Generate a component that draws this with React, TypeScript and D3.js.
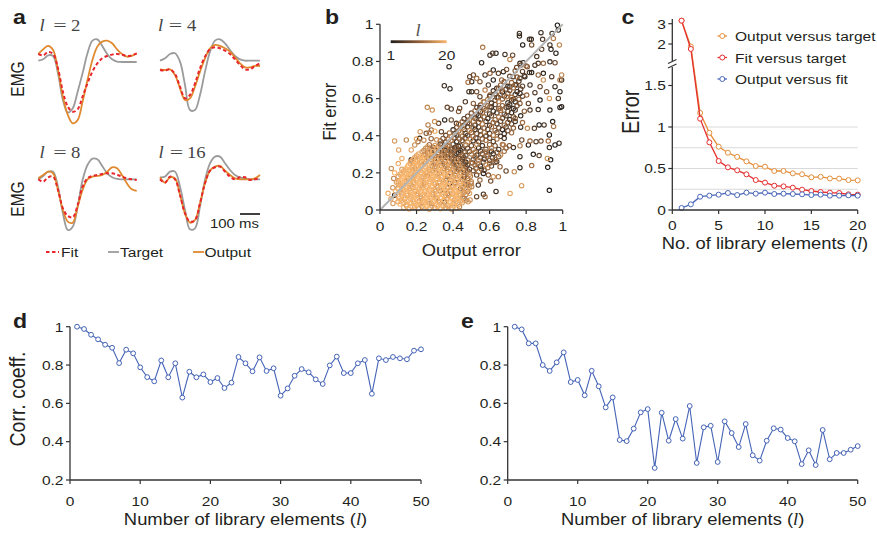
import React from "react";
import * as d3 from "d3";

// ---------- Panel a: EMG waveforms (time in ms, amplitude in arbitrary units) ----------
const emgTime = [0, 25, 50, 75, 100, 125, 150, 175, 200, 225, 250, 275, 300, 325, 350, 375, 400, 425, 450, 475, 500];
const l2Target = [-2, 2, 14, 12, -40, -120, -158, -145, -95, -40, 20, 58, 62, 42, 18, 2, -5, -6, -6, -6, -6];
const l2Output = [18, 32, 42, 30, -30, -110, -165, -190, -180, -125, -60, 0, 40, 55, 58, 50, 32, 18, 10, 12, 20];
const l2Fit = [18, 14, 24, 18, -25, -95, -140, -155, -148, -110, -70, -35, -10, 5, 12, 16, 18, 16, 12, 14, 20];
const l4Target = [-2, 5, 18, 20, -5, -75, -150, -150, -105, -35, 25, 58, 62, 50, 30, 12, 2, -2, -2, -2, -2];
const l4Output = [-28, -30, -28, -45, -85, -120, -115, -80, -35, 5, 35, 45, 42, 35, 25, 8, -10, -22, -22, -18, -18];
const l4Fit = [-30, -32, -28, -42, -80, -115, -105, -70, -25, 10, 32, 38, 35, 28, 18, 2, -15, -28, -28, -18, -10];
const l8Target = [-1, 9, 22, 22, -23, -103, -153, -143, -83, -3, 42, 61, 59, 39, 17, 5, 0, -1, -1, -1, -1];
const l8Output = [2, 12, 22, 17, -33, -93, -128, -131, -83, -33, -1, 7, 9, 12, 22, 35, 32, 12, -13, -31, -36];
const l8Fit = [-1, -8, 5, 7, -33, -88, -111, -115, -78, -23, 2, 9, 12, 15, 17, 17, 13, 7, 2, -1, -3];
const l16Target = [5, 7, 22, 22, -23, -93, -151, -148, -83, -3, 47, 67, 67, 47, 27, 12, 5, 2, -1, -1, -1];
const l16Output = [5, -11, 5, 2, -48, -103, -131, -123, -73, -13, 25, 37, 39, 25, 12, 2, -1, -1, -1, 2, 12];
const l16Fit = [-1, -11, 7, -1, -48, -103, -128, -123, -73, -13, 25, 35, 37, 22, 7, -1, 5, 5, -3, -1, 2];
const emgTitles = ["2", "4", "8", "16"];
const emgLegend = ["Fit", "Target", "Output"];

// ---------- Panel b: scatter [output error, fit error, l] ----------
const scatterSparse = [
  [0.378,0.772,2],[0.352,0.669,3],[0.383,0.653,2],[0.491,0.718,6],[0.482,0.688,12],[0.487,0.637,4],[0.467,0.583,5],[0.259,0.553,15],[0.286,0.538,16],[0.368,0.553,7],[0.39,0.544,5],[0.436,0.548,6],[0.43,0.53,9],
  [0.971,0.995,1],[0.976,0.969,2],[0.942,0.951,3],[0.949,0.924,14],[0.982,0.889,15],[0.93,0.889,4],[0.936,0.865,2],[0.963,0.844,1],[0.881,0.955,3],[0.89,0.919,5],[0.818,0.919,4],[0.828,0.919,2],[0.781,0.889,1],[0.763,0.951,3],[0.763,0.937,2],[0.885,0.865,6],[0.858,0.826,4],[0.83,0.889,8],[0.562,0.876,13],[0.602,0.834,3],[0.635,0.844,2],[0.617,0.844,5],[0.556,0.793,2],[0.711,0.811,14],[0.726,0.834,7],[0.684,0.838,4],[0.766,0.79,3],[0.748,0.768,6],[0.784,0.793,2],[0.806,0.772,9],[0.848,0.78,4],[0.866,0.79,5],[0.894,0.79,11],[0.93,0.798,3],[0.958,0.793,7],[0.818,0.74,4],[0.83,0.74,2],[0.693,0.757,8],[0.675,0.745,3],[0.648,0.736,6],[0.62,0.754,2],[0.602,0.736,10],[0.575,0.727,4],[0.529,0.709,12],[0.511,0.727,7],[0.502,0.691,3],[0.547,0.691,9],[0.593,0.673,5],[0.62,0.7,2],[0.666,0.7,11],[0.729,0.718,4],[0.766,0.709,6],[0.793,0.718,3],[0.866,0.727,10],[0.894,0.736,2],[0.94,0.718,5],[0.985,0.7,13],[0.894,0.7,16],[0.958,0.664,3],[0.876,0.664,7],[0.821,0.673,4],[0.748,0.673,9],[0.711,0.664,2],[0.666,0.646,12],[0.639,0.655,5],[0.575,0.646,14],[0.529,0.637,8],[0.502,0.637,3],[0.547,0.61,6],[0.602,0.619,10],[0.648,0.606,4],[0.693,0.61,13],[0.73,0.596,7],[0.766,0.628,2],[0.803,0.619,11],[0.848,0.632,5],[0.912,0.637,8],[0.927,0.601,17],[0.976,0.601,4],[0.985,0.637,2],[0.876,0.592,1],[0.812,0.574,6],[0.766,0.574,9],[0.702,0.556,3],[0.657,0.547,12],[0.602,0.556,7],[0.547,0.552,4],[0.511,0.574,10],[0.566,0.583,15],[0.821,0.538,5],[0.866,0.541,3],[0.93,0.538,2],[0.985,0.552,1],
  [0.08,0.372,17],[0.102,0.323,18],[0.062,0.224,16],[0.12,0.278,19],[0.144,0.377,15],[0.171,0.323,18],[0.171,0.26,14],[0.19,0.35,16],[0.208,0.368,12],[0.217,0.386,3],[0.253,0.413,9],[0.263,0.458,14],[0.281,0.431,11],[0.321,0.467,6],[0.336,0.422,7],[0.299,0.476,16],[0.354,0.485,2],[0.39,0.485,8],[0.418,0.467,5],[0.171,0.27,3],[0.08,0.08,2],[0.098,0.044,18],[0.071,0.035,17],[0.044,0.09,19],[0.098,0.117,16],[0.126,0.135,15],[0.153,0.171,13],[0.454,0.09,18],[0.482,0.044,17],[0.445,0.048,19],[0.472,0.135,3],[0.418,0.081,16],
  [0.945,0.476,2],[0.898,0.458,4],[0.871,0.458,1],[0.845,0.44,6],[0.807,0.44,15],[0.927,0.404,2],[0.921,0.371,12],[0.958,0.35,1],[0.927,0.336,3],[0.881,0.371,8],[0.854,0.368,5],[0.821,0.371,11],[0.812,0.35,2],[0.776,0.377,7],[0.766,0.346,13],[0.73,0.336,4],[0.708,0.346,9],[0.675,0.35,14],[0.839,0.3,2],[0.871,0.293,6],[0.916,0.278,16],[0.918,0.23,1],[0.83,0.239,12],[0.766,0.287,3],[0.766,0.228,2],[0.735,0.206,15],[0.69,0.21,7],[0.657,0.233,10],[0.639,0.26,5],[0.62,0.179,16],[0.648,0.179,13],[0.593,0.188,9],[0.566,0.197,2],[0.529,0.188,6],[0.547,0.161,11],[0.606,0.156,8],[0.775,0.131,17],[0.927,0.106,1],[0.712,0.089,18],[0.635,0.1,3],[0.566,0.085,4],[0.529,0.072,7],[0.575,0.072,12],[0.493,0.054,16],[0.538,0.134,5],[0.502,0.125,14],
  [0.994,0.556,2],[0.994,0.7,4],[0.994,0.727,15],[0.98,0.36,3],[0.934,0.27,1],[0.95,0.45,13],
];
const scatterCore = [
  [0.13,0.012,19],[0.16,0.005,20],[0.19,0.015,18],[0.21,0.008,17],[0.24,0.012,20],[0.27,0.004,19],[0.30,0.014,16],[0.33,0.007,20],[0.36,0.013,18],[0.39,0.006,17],[0.42,0.011,19],
  [0.11,0.032,20],[0.145,0.028,17],[0.17,0.036,19],[0.2,0.03,20],[0.225,0.034,18],[0.255,0.027,20],[0.28,0.035,15],[0.31,0.029,19],[0.34,0.033,20],[0.37,0.026,18],[0.40,0.034,16],[0.43,0.03,19],
  [0.12,0.052,18],[0.15,0.047,20],[0.18,0.055,19],[0.215,0.049,17],[0.24,0.053,20],[0.265,0.046,18],[0.295,0.054,20],[0.32,0.048,12],[0.35,0.052,19],[0.38,0.046,20],[0.41,0.055,17],[0.44,0.049,18],[0.47,0.053,14],
  [0.10,0.072,19],[0.135,0.068,20],[0.165,0.075,18],[0.19,0.069,20],[0.22,0.073,16],[0.25,0.067,19],[0.275,0.074,20],[0.305,0.07,18],[0.33,0.066,20],[0.36,0.075,17],[0.39,0.069,19],[0.42,0.073,20],[0.45,0.068,15],
  [0.12,0.092,17],[0.15,0.088,20],[0.175,0.095,19],[0.205,0.09,18],[0.23,0.094,20],[0.26,0.087,19],[0.29,0.093,17],[0.315,0.089,20],[0.345,0.095,18],[0.37,0.088,13],[0.40,0.092,19],[0.43,0.087,20],[0.46,0.094,16],[0.49,0.09,18],
  [0.10,0.112,20],[0.13,0.108,18],[0.16,0.115,19],[0.19,0.109,20],[0.215,0.114,17],[0.245,0.107,20],[0.27,0.113,19],[0.30,0.109,18],[0.33,0.115,20],[0.355,0.108,16],[0.385,0.112,19],[0.41,0.107,20],[0.44,0.114,11],[0.47,0.11,18],
  [0.115,0.132,19],[0.145,0.128,20],[0.17,0.135,17],[0.2,0.129,20],[0.23,0.134,18],[0.255,0.127,19],[0.285,0.133,20],[0.31,0.129,15],[0.34,0.135,19],[0.37,0.128,20],[0.395,0.132,18],[0.425,0.127,17],[0.455,0.134,19],[0.48,0.13,13],
  [0.10,0.152,18],[0.13,0.148,20],[0.16,0.155,19],[0.185,0.149,17],[0.215,0.153,20],[0.24,0.147,18],[0.27,0.154,19],[0.295,0.148,20],[0.325,0.152,16],[0.35,0.146,19],[0.38,0.153,20],[0.41,0.149,12],[0.44,0.155,18],[0.47,0.148,17],[0.50,0.152,14],
  [0.12,0.172,20],[0.15,0.168,19],[0.175,0.175,18],[0.205,0.169,20],[0.23,0.173,17],[0.26,0.167,20],[0.285,0.174,19],[0.31,0.169,18],[0.34,0.175,20],[0.365,0.168,16],[0.395,0.172,19],[0.42,0.167,14],[0.45,0.174,18],[0.48,0.17,10],
  [0.11,0.192,18],[0.14,0.188,20],[0.165,0.195,19],[0.19,0.189,17],[0.22,0.194,20],[0.245,0.187,19],[0.27,0.193,18],[0.30,0.189,20],[0.325,0.195,15],[0.355,0.188,19],[0.38,0.192,20],[0.41,0.187,13],[0.435,0.194,17],[0.46,0.19,11],[0.49,0.193,16],
  [0.13,0.212,19],[0.155,0.208,20],[0.18,0.215,17],[0.21,0.209,19],[0.235,0.213,20],[0.26,0.207,18],[0.29,0.214,16],[0.315,0.209,20],[0.34,0.215,19],[0.37,0.208,14],[0.395,0.212,18],[0.42,0.207,12],[0.45,0.214,17],[0.48,0.21,9],
  [0.15,0.232,20],[0.175,0.228,18],[0.2,0.235,19],[0.225,0.229,20],[0.25,0.233,17],[0.28,0.227,19],[0.305,0.234,15],[0.33,0.229,20],[0.355,0.235,13],[0.385,0.228,18],[0.41,0.232,11],[0.44,0.227,16],[0.47,0.234,8],
  [0.165,0.252,18],[0.19,0.248,20],[0.215,0.255,19],[0.24,0.249,17],[0.265,0.253,20],[0.295,0.247,14],[0.32,0.254,18],[0.345,0.249,12],[0.37,0.255,19],[0.40,0.248,10],[0.43,0.252,16],[0.46,0.247,7],[0.50,0.253,13],
  [0.18,0.272,19],[0.205,0.268,17],[0.23,0.275,20],[0.255,0.269,18],[0.28,0.273,13],[0.31,0.267,19],[0.335,0.274,11],[0.36,0.269,17],[0.39,0.275,9],[0.42,0.268,15],[0.45,0.273,6],[0.48,0.269,12],
  [0.2,0.292,18],[0.225,0.288,20],[0.25,0.295,16],[0.275,0.289,19],[0.3,0.293,12],[0.33,0.287,17],[0.355,0.294,8],[0.38,0.289,14],[0.41,0.295,5],[0.44,0.288,11],[0.47,0.293,7],
  [0.23,0.312,17],[0.26,0.308,14],[0.29,0.315,19],[0.32,0.309,9],[0.35,0.313,15],[0.37,0.307,6],[0.40,0.314,12],[0.43,0.309,4],[0.46,0.313,10],
  [0.25,0.332,16],[0.28,0.328,11],[0.31,0.335,18],[0.34,0.329,7],[0.36,0.334,13],[0.39,0.328,5],[0.42,0.333,10],[0.45,0.329,3],
  [0.27,0.352,12],[0.30,0.348,17],[0.33,0.355,6],[0.37,0.349,14],[0.40,0.354,4],[0.44,0.348,9],
];
const scatterCore2 = [
  [0.145,0.021,18],[0.175,0.018,20],[0.2,0.024,19],[0.23,0.02,16],[0.255,0.017,20],[0.285,0.023,18],[0.315,0.019,20],[0.345,0.022,17],[0.375,0.016,19],[0.405,0.021,20],[0.435,0.018,15],
  [0.125,0.041,19],[0.16,0.038,20],[0.185,0.043,18],[0.21,0.039,20],[0.24,0.042,19],[0.27,0.037,17],[0.295,0.044,20],[0.325,0.04,18],[0.355,0.043,4],[0.385,0.038,20],[0.415,0.042,19],[0.45,0.039,17],
  [0.105,0.061,20],[0.135,0.058,18],[0.165,0.063,19],[0.2,0.059,20],[0.225,0.062,17],[0.25,0.057,20],[0.28,0.064,19],[0.31,0.06,16],[0.335,0.063,20],[0.365,0.058,18],[0.395,0.062,19],[0.425,0.057,20],[0.46,0.063,12],
  [0.12,0.081,19],[0.15,0.078,17],[0.18,0.083,20],[0.205,0.079,18],[0.235,0.082,19],[0.265,0.077,20],[0.29,0.084,14],[0.32,0.08,19],[0.345,0.083,20],[0.375,0.078,17],[0.405,0.082,20],[0.435,0.079,18],[0.47,0.083,13],
  [0.11,0.101,18],[0.14,0.098,20],[0.165,0.103,19],[0.19,0.099,17],[0.22,0.102,20],[0.245,0.097,18],[0.275,0.104,20],[0.3,0.1,19],[0.33,0.103,5],[0.36,0.098,20],[0.385,0.102,17],[0.415,0.097,19],[0.445,0.103,16],[0.48,0.1,12],
  [0.12,0.121,20],[0.145,0.118,19],[0.175,0.123,18],[0.205,0.119,20],[0.23,0.122,17],[0.26,0.117,20],[0.285,0.124,19],[0.315,0.12,18],[0.34,0.123,20],[0.37,0.118,15],[0.4,0.122,19],[0.425,0.117,20],[0.455,0.123,14],[0.49,0.12,17],
  [0.1,0.141,19],[0.13,0.138,20],[0.16,0.143,17],[0.185,0.139,19],[0.215,0.142,20],[0.24,0.137,18],[0.27,0.144,20],[0.3,0.14,16],[0.325,0.143,19],[0.355,0.138,20],[0.38,0.142,3],[0.41,0.137,18],[0.44,0.143,19],[0.465,0.139,11],[0.5,0.142,15],
  [0.115,0.161,20],[0.145,0.158,18],[0.17,0.163,20],[0.2,0.159,19],[0.225,0.162,17],[0.255,0.157,20],[0.28,0.164,18],[0.31,0.16,20],[0.335,0.163,19],[0.36,0.158,13],[0.39,0.162,18],[0.42,0.157,20],[0.45,0.163,10],[0.485,0.16,16],
  [0.1,0.181,17],[0.13,0.178,19],[0.155,0.183,20],[0.185,0.179,18],[0.21,0.182,20],[0.235,0.177,19],[0.26,0.184,16],[0.29,0.18,20],[0.315,0.183,18],[0.34,0.178,19],[0.37,0.182,12],[0.4,0.177,17],[0.43,0.183,20],[0.46,0.179,9],[0.495,0.182,14],
  [0.12,0.201,20],[0.145,0.198,18],[0.175,0.203,19],[0.2,0.199,20],[0.225,0.202,17],[0.255,0.197,19],[0.28,0.204,20],[0.305,0.2,15],[0.335,0.203,18],[0.36,0.198,20],[0.385,0.202,11],[0.415,0.197,17],[0.44,0.203,6],[0.47,0.2,13],
  [0.14,0.221,19],[0.165,0.218,20],[0.19,0.223,17],[0.215,0.219,19],[0.245,0.222,20],[0.27,0.217,18],[0.3,0.224,14],[0.325,0.22,19],[0.35,0.223,10],[0.375,0.218,17],[0.4,0.222,15],[0.43,0.217,8],[0.46,0.223,12],[0.49,0.22,5],
  [0.155,0.241,20],[0.18,0.238,18],[0.205,0.243,19],[0.23,0.239,16],[0.26,0.242,20],[0.285,0.237,13],[0.31,0.244,18],[0.335,0.24,9],[0.36,0.243,17],[0.39,0.238,14],[0.42,0.242,7],[0.45,0.237,11],[0.48,0.243,4],
  [0.17,0.261,17],[0.2,0.258,20],[0.225,0.263,18],[0.25,0.259,15],[0.275,0.262,19],[0.3,0.257,11],[0.33,0.264,16],[0.355,0.26,8],[0.38,0.263,13],[0.41,0.258,6],[0.44,0.262,10],[0.47,0.257,3],
  [0.19,0.281,18],[0.215,0.278,16],[0.24,0.283,19],[0.265,0.279,12],[0.29,0.282,17],[0.32,0.277,9],[0.345,0.284,14],[0.37,0.28,5],[0.4,0.283,11],[0.43,0.278,7],[0.46,0.282,2],
  [0.21,0.301,19],[0.24,0.298,13],[0.265,0.303,17],[0.29,0.299,10],[0.315,0.302,15],[0.34,0.297,6],[0.365,0.304,12],[0.39,0.3,8],[0.42,0.303,3],[0.45,0.298,9],
  [0.24,0.321,15],[0.27,0.318,18],[0.3,0.323,8],[0.33,0.319,13],[0.355,0.322,4],[0.38,0.317,11],[0.41,0.323,6],[0.44,0.32,2],
  [0.26,0.341,17],[0.29,0.338,9],[0.32,0.343,14],[0.35,0.339,5],[0.38,0.342,12],[0.41,0.337,7],[0.43,0.343,3],
  [0.2,0.382,18],[0.24,0.376,15],[0.28,0.384,11],[0.31,0.378,16],
  [0.22,0.422,17],[0.27,0.416,13],[0.3,0.424,19],
  [0.1,0.25,19],[0.12,0.22,17],[0.08,0.2,20],[0.09,0.15,18],[0.07,0.12,16],[0.085,0.1,20],[0.06,0.06,18],[0.075,0.17,15],
];
const scatterBand = [
  [0.33,0.372,10],[0.36,0.366,5],[0.39,0.375,13],[0.42,0.368,3],[0.45,0.374,8],[0.48,0.366,15],[0.51,0.373,2],[0.54,0.367,6],[0.58,0.375,11],[0.62,0.369,4],
  [0.36,0.402,7],[0.39,0.396,14],[0.42,0.404,2],[0.45,0.397,9],[0.48,0.403,4],[0.51,0.396,12],[0.55,0.404,6],[0.58,0.398,1],[0.62,0.403,13],[0.66,0.397,5],
  [0.40,0.432,3],[0.43,0.426,11],[0.46,0.434,6],[0.49,0.427,15],[0.52,0.433,2],[0.55,0.426,8],[0.59,0.434,4],[0.63,0.428,10],[0.67,0.433,1],[0.70,0.427,7],
  [0.43,0.462,12],[0.46,0.456,4],[0.49,0.464,9],[0.52,0.457,2],[0.56,0.463,14],[0.60,0.456,5],[0.64,0.464,3],[0.68,0.457,11],[0.72,0.463,6],
  [0.46,0.492,5],[0.49,0.486,13],[0.52,0.494,3],[0.55,0.487,8],[0.59,0.493,1],[0.63,0.486,10],[0.67,0.494,6],[0.71,0.487,2],[0.74,0.493,9],
  [0.50,0.522,8],[0.53,0.516,2],[0.56,0.524,12],[0.60,0.517,5],[0.64,0.523,3],[0.68,0.516,7],[0.72,0.524,1],
  [0.53,0.552,4],[0.57,0.546,11],[0.61,0.554,2],[0.65,0.547,9],[0.69,0.553,6],[0.73,0.546,3],
  [0.57,0.582,9],[0.61,0.576,3],[0.65,0.584,14],[0.70,0.577,5],[0.74,0.583,2],
  [0.60,0.612,2],[0.64,0.606,7],[0.68,0.614,4],[0.72,0.607,12],[0.78,0.613,6],
  [0.62,0.642,5],[0.67,0.636,1],[0.71,0.644,8],[0.75,0.637,3],
  [0.66,0.672,10],[0.70,0.666,4],[0.74,0.674,2],[0.78,0.667,7],
  [0.51,0.212,8],[0.54,0.206,13],[0.57,0.214,4],
  [0.52,0.242,11],[0.55,0.236,3],[0.58,0.244,15],[0.61,0.237,6],
  [0.51,0.272,5],[0.54,0.266,14],[0.57,0.274,2],[0.60,0.267,9],[0.63,0.273,12],
  [0.50,0.302,13],[0.53,0.296,4],[0.56,0.304,10],[0.59,0.297,7],[0.62,0.303,3],[0.66,0.296,15],
  [0.48,0.332,6],[0.51,0.326,12],[0.54,0.334,2],[0.58,0.327,9],[0.61,0.333,14],[0.65,0.326,4],[0.69,0.334,8],
];
const scatterBand2 = [
  [0.345,0.385,9],[0.375,0.381,13],[0.405,0.388,6],[0.435,0.382,11],[0.465,0.387,8],[0.495,0.381,14],[0.525,0.388,5],[0.56,0.383,10],[0.6,0.387,7],[0.64,0.382,12],[0.68,0.386,4],
  [0.38,0.415,12],[0.41,0.411,7],[0.44,0.418,15],[0.47,0.412,5],[0.5,0.417,10],[0.53,0.411,8],[0.57,0.418,13],[0.6,0.412,6],[0.64,0.417,9],[0.68,0.411,3],[0.72,0.416,11],
  [0.42,0.445,8],[0.45,0.441,14],[0.48,0.448,6],[0.51,0.442,11],[0.54,0.447,4],[0.57,0.441,9],[0.61,0.448,12],[0.65,0.442,7],[0.69,0.447,5],[0.73,0.441,10],[0.77,0.446,3],
  [0.45,0.475,10],[0.48,0.471,6],[0.51,0.478,13],[0.54,0.472,8],[0.58,0.477,5],[0.62,0.471,11],[0.66,0.478,7],[0.7,0.472,9],[0.74,0.477,4],[0.78,0.471,12],
  [0.48,0.505,7],[0.51,0.501,12],[0.54,0.508,5],[0.57,0.502,10],[0.61,0.507,8],[0.65,0.501,13],[0.69,0.508,6],[0.73,0.502,9],[0.77,0.507,3],
  [0.52,0.535,11],[0.55,0.531,6],[0.58,0.538,9],[0.62,0.532,4],[0.66,0.537,12],[0.7,0.531,7],[0.74,0.538,5],[0.79,0.532,10],
  [0.55,0.565,8],[0.59,0.561,12],[0.63,0.568,6],[0.67,0.562,10],[0.71,0.567,4],[0.75,0.561,8],
  [0.59,0.595,13],[0.63,0.591,7],[0.67,0.598,10],[0.72,0.592,5],[0.76,0.597,9],
  [0.63,0.625,6],[0.66,0.621,11],[0.7,0.628,8],[0.74,0.622,4],
  [0.65,0.655,9],[0.69,0.651,6],[0.73,0.658,12],[0.77,0.652,5],
  [0.68,0.69,8],[0.72,0.686,11],[0.76,0.693,4],
  [0.71,0.72,7],[0.75,0.716,10],[0.79,0.723,5],
  [0.74,0.75,9],[0.78,0.746,6],
  [0.77,0.78,8],[0.8,0.776,11],
  [0.525,0.225,10],[0.555,0.221,7],[0.59,0.228,12],
  [0.505,0.255,9],[0.535,0.251,12],[0.565,0.258,6],[0.6,0.252,10],[0.63,0.257,8],
  [0.52,0.285,11],[0.55,0.281,7],[0.585,0.288,13],[0.615,0.282,5],[0.65,0.287,9],
  [0.49,0.315,8],[0.52,0.311,13],[0.55,0.318,6],[0.58,0.312,11],[0.61,0.317,4],[0.64,0.311,9],[0.68,0.316,12],
  [0.47,0.35,11],[0.5,0.346,7],[0.53,0.353,14],[0.56,0.347,5],[0.6,0.352,10],[0.63,0.346,8],[0.67,0.353,12],
];
const unitTicks = [0, 0.2, 0.4, 0.6, 0.8, 1];

// ---------- Panel c ----------
const libSizeC = [1, 2, 3, 4, 5, 6, 7, 8, 9, 10, 11, 12, 13, 14, 15, 16, 17, 18, 19, 20];
const outVsTarget = [3.15, 1.97, 1.17, 0.93, 0.763, 0.69, 0.64, 0.586, 0.53, 0.522, 0.47, 0.47, 0.442, 0.43, 0.394, 0.4, 0.38, 0.378, 0.361, 0.357];
const fitVsTarget = [3.15, 1.94, 1.1, 0.815, 0.59, 0.514, 0.478, 0.43, 0.361, 0.33, 0.293, 0.285, 0.269, 0.245, 0.229, 0.217, 0.209, 0.205, 0.189, 0.185];
const outVsFit = [0.024, 0.068, 0.16, 0.173, 0.185, 0.205, 0.18, 0.209, 0.197, 0.209, 0.193, 0.197, 0.193, 0.189, 0.18, 0.185, 0.173, 0.173, 0.177, 0.173];
const cSeriesNames = ["Output versus target", "Fit versus target", "Output versus fit"];
const cXTicks = [0, 5, 10, 15, 20];
const cYTicksLow = [0, 0.5, 1, 1.5];
const cYTicksHigh = [2, 3];
const cGrid = [0.25, 0.5, 0.75, 1];

// ---------- Panels d, e ----------
const corrD = [1.0, 0.988, 0.958, 0.934, 0.906, 0.89, 0.81, 0.88, 0.861, 0.788, 0.737, 0.715, 0.824, 0.736, 0.809, 0.63, 0.765, 0.736, 0.751, 0.711, 0.732, 0.68, 0.708, 0.842, 0.809, 0.767, 0.84, 0.769, 0.783, 0.64, 0.678, 0.744, 0.779, 0.762, 0.725, 0.701, 0.798, 0.844, 0.758, 0.758, 0.809, 0.826, 0.65, 0.835, 0.826, 0.842, 0.835, 0.83, 0.875, 0.882];
const corrE = [1.0, 0.986, 0.913, 0.913, 0.8, 0.769, 0.814, 0.866, 0.711, 0.722, 0.642, 0.77, 0.689, 0.579, 0.631, 0.409, 0.403, 0.468, 0.553, 0.57, 0.263, 0.551, 0.405, 0.518, 0.416, 0.586, 0.289, 0.475, 0.483, 0.294, 0.506, 0.445, 0.372, 0.492, 0.329, 0.301, 0.405, 0.47, 0.463, 0.419, 0.402, 0.283, 0.355, 0.278, 0.461, 0.308, 0.341, 0.341, 0.358, 0.377];
const deXTicks = [0, 10, 20, 30, 40, 50];
const deYTicks = [0.2, 0.4, 0.6, 0.8, 1];

// ---------- styling ----------
const SANS = "'Liberation Sans', Arial, Helvetica, sans-serif";
const SERIF = "'Liberation Serif', 'Times New Roman', serif";
const SX = 1.15;
const INK = "#231f20";
const AXIS = "#333";
const GRAY = "#9b9b9b";
const ORANGE = "#e08a30";
const RED = "#e8262b";
const BLUE = "#4463b6";
const fmt = d3.format("~g");

function Txt({ x, y, children, size = 13.5, anchor = "start", weight = "normal", rot = 0, sx = SX, family = SANS, italic = false, fill = INK }: any) {
  const tr = `translate(${x},${y}) scale(${sx},1)` + (rot ? ` rotate(${rot})` : "");
  return (
    <text transform={tr} fontSize={size} textAnchor={anchor} fontWeight={weight} fontFamily={family} fontStyle={italic ? "italic" : "normal"} fill={fill}>
      {children}
    </text>
  );
}

function LeftAxis({ scale, ticks, x, top, bottom }: any) {
  return (
    <g>
      <line x1={x} x2={x} y1={top} y2={bottom} stroke={AXIS} strokeWidth={1.3} />
      {ticks.map((t: number) => (
        <g key={t}>
          <line x1={x - 4} x2={x} y1={scale(t)} y2={scale(t)} stroke={AXIS} strokeWidth={1.2} />
          <Txt x={x - 6.5} y={scale(t) + 4.8} anchor="end">{fmt(t)}</Txt>
        </g>
      ))}
    </g>
  );
}

function BottomAxis({ scale, ticks, y, left, right, labelY }: any) {
  return (
    <g>
      <line x1={left} x2={right} y1={y} y2={y} stroke={AXIS} strokeWidth={1.3} />
      {ticks.map((t: number) => (
        <g key={t}>
          <line x1={scale(t)} x2={scale(t)} y1={y} y2={y + 4} stroke={AXIS} strokeWidth={1.2} />
          <Txt x={scale(t)} y={labelY} anchor="middle">{fmt(t)}</Txt>
        </g>
      ))}
    </g>
  );
}

function PanelA() {
  const xL = d3.scaleLinear().domain([0, 500]).range([38.3, 136.7]);
  const xR = d3.scaleLinear().domain([0, 500]).range([160, 260]);
  const yTop = d3.scaleLinear().domain([-210, 80]).range([130, 33.3]);
  const yBot = d3.scaleLinear().domain([-210, 80]).range([249, 152.3]);
  const subs = [
    { title: emgTitles[0], x: xL, y: yTop, target: l2Target, fit: l2Fit, output: l2Output, tx: 39.5, eq: 60, nx: 71, ty: 30.7 },
    { title: emgTitles[1], x: xR, y: yTop, target: l4Target, fit: l4Fit, output: l4Output, tx: 158, eq: 175.5, nx: 187, ty: 30.7 },
    { title: emgTitles[2], x: xL, y: yBot, target: l8Target, fit: l8Fit, output: l8Output, tx: 39.5, eq: 60, nx: 71, ty: 157.5 },
    { title: emgTitles[3], x: xR, y: yBot, target: l16Target, fit: l16Fit, output: l16Output, tx: 158.5, eq: 176.5, nx: 187, ty: 157.5 },
  ];
  return (
    <g>
      {subs.map((s, i) => {
        const line = d3
          .line<number>()
          .x((_, j) => s.x(emgTime[j]))
          .y((v) => s.y(v))
          .curve(d3.curveCatmullRom.alpha(0.5));
        return (
          <g key={i}>
            <path d={line(s.target) || ""} fill="none" stroke={GRAY} strokeWidth={1.8} />
            <path d={line(s.output) || ""} fill="none" stroke={ORANGE} strokeWidth={1.8} />
            <path d={line(s.fit) || ""} fill="none" stroke={RED} strokeWidth={2} strokeDasharray="3.5,2.5" />
            <Txt x={s.tx} y={s.ty} size={17} family={SERIF} italic sx={1.1} fill="#444">l</Txt>
            <Txt x={s.eq} y={s.ty} size={17} family={SERIF} anchor="middle" sx={1.4} fill="#444">=</Txt>
            <Txt x={s.nx} y={s.ty} size={17} family={SERIF} sx={1.1} fill="#444">{s.title}</Txt>
          </g>
        );
      })}
      <Txt x={24} y={79} size={15.5} anchor="middle" rot={-90}>EMG</Txt>
      <Txt x={24} y={199} size={15.5} anchor="middle" rot={-90}>EMG</Txt>
      {/* 100 ms scale bar */}
      <line x1={xR(400)} x2={xR(500)} y1={214} y2={214} stroke="#111" strokeWidth={1.6} />
      <Txt x={259} y={227.5} size={13} anchor="end">100 ms</Txt>
      {/* legend */}
      <line x1={46} x2={59} y1={252} y2={252} stroke={RED} strokeWidth={2} strokeDasharray="3.5,2.5" />
      <Txt x={61} y={257} size={13.5}>{emgLegend[0]}</Txt>
      <line x1={108} x2={119} y1={252} y2={252} stroke={GRAY} strokeWidth={1.8} />
      <Txt x={120} y={257} size={13.5}>{emgLegend[1]}</Txt>
      <line x1={193} x2={204} y1={252} y2={252} stroke={ORANGE} strokeWidth={1.8} />
      <Txt x={204.5} y={257} size={13.5}>{emgLegend[2]}</Txt>
    </g>
  );
}

function PanelB() {
  const x = d3.scaleLinear().domain([0, 1]).range([380, 562.7]);
  const y = d3.scaleLinear().domain([0, 1]).range([210, 24.3]);
  const color = d3.scaleLinear<string>().domain([1, 10.5, 20]).range(["#221d19", "#8f5e37", "#f9b66d"]);
  const pts = [...scatterSparse, ...scatterBand, ...scatterBand2, ...scatterCore, ...scatterCore2].slice().sort((a, b) => a[2] - b[2]);
  const cb = d3.scaleLinear().domain([1, 20]).range([390.7, 446.7]);
  return (
    <g>
      <defs>
        <linearGradient id="lgrad" x1="0" x2="1" y1="0" y2="0">
          <stop offset="0" stopColor={color(1)} />
          <stop offset="0.5" stopColor={color(10.5)} />
          <stop offset="1" stopColor={color(20)} />
        </linearGradient>
      </defs>
      {pts.map((p, i) => (
        <circle key={i} cx={x(p[0])} cy={y(p[1])} r={2.2} fill="none" stroke={color(p[2])} strokeWidth={1.1} />
      ))}
      <line x1={x(0)} y1={y(0)} x2={x(1)} y2={y(1)} stroke="#b4b4b4" strokeWidth={2} />
      <LeftAxis scale={y} ticks={unitTicks} x={380} top={y(1)} bottom={y(0)} />
      <BottomAxis scale={x} ticks={unitTicks} y={210} left={x(0)} right={x(1)} labelY={231} />
      <rect x={cb(1)} y={40.3} width={cb(20) - cb(1)} height={2.8} fill="url(#lgrad)" />
      <Txt x={cb(1)} y={60} anchor="middle">1</Txt>
      <Txt x={cb(20)} y={60} anchor="middle">20</Txt>
      <Txt x={418} y={36} size={16} family={SERIF} italic anchor="middle" fill="#555">l</Txt>
      <Txt x={471.3} y={255.5} size={16} anchor="middle">Output error</Txt>
      <Txt x={335.5} y={111.7} size={16.5} anchor="middle" rot={-90}>Fit error</Txt>
    </g>
  );
}

function PanelC() {
  const x = d3.scaleLinear().domain([0, 20]).range([672.3, 857.7]);
  const yLow = d3.scaleLinear().domain([0, 2]).range([210, 44]);
  const yHigh = d3.scaleLinear().domain([2, 3]).range([44, 23.7]);
  const y = (v: number) => (v <= 2 ? yLow(v) : yHigh(v));
  const series = [
    { name: cSeriesNames[0], vals: outVsTarget, color: "#e38f3c" },
    { name: cSeriesNames[1], vals: fitVsTarget, color: "#e5302f" },
    { name: cSeriesNames[2], vals: outVsFit, color: "#4a67b8" },
  ];
  const line = (vals: number[]) =>
    d3
      .line<number>()
      .x((_, i) => x(libSizeC[i]))
      .y((v) => y(v))(vals) || "";
  const ax = 672.3;
  return (
    <g>
      {cGrid.map((g) => (
        <line key={g} x1={ax} x2={x(20)} y1={y(g)} y2={y(g)} stroke="#d9d9d9" strokeWidth={1} />
      ))}
      {series.map((s) => (
        <g key={s.name}>
          <path d={line(s.vals)} fill="none" stroke={s.color} strokeWidth={1.3} />
          {s.vals.map((v, i) => (
            <circle key={i} cx={x(libSizeC[i])} cy={y(v)} r={2.5} fill="#fff" stroke={s.color} strokeWidth={1} />
          ))}
        </g>
      ))}
      {/* y axis with break */}
      <line x1={ax} x2={ax} y1={19} y2={61} stroke={AXIS} strokeWidth={1.3} />
      <line x1={ax} x2={ax} y1={67} y2={210} stroke={AXIS} strokeWidth={1.3} />
      <line x1={668} x2={676.5} y1={63.5} y2={59.5} stroke={AXIS} strokeWidth={1.1} />
      <line x1={668} x2={676.5} y1={68} y2={64} stroke={AXIS} strokeWidth={1.1} />
      {[...cYTicksLow, ...cYTicksHigh].map((t) => (
        <g key={t}>
          <line x1={ax - 4} x2={ax} y1={y(t)} y2={y(t)} stroke={AXIS} strokeWidth={1.2} />
          <Txt x={ax - 6.5} y={y(t) + 4.8} anchor="end">{fmt(t)}</Txt>
        </g>
      ))}
      <BottomAxis scale={x} ticks={cXTicks} y={210} left={x(0)} right={x(20)} labelY={230} />
      <Txt x={765} y={249} size={16} anchor="middle">
        No. of library elements (<tspan fontFamily={SERIF} fontStyle="italic">l</tspan>)
      </Txt>
      <Txt x={639} y={111.7} size={20} anchor="middle" rot={-90}>Error</Txt>
      {series.map((s, i) => (
        <g key={s.name}>
          <line x1={717.5} x2={727} y1={36 + i * 21.5} y2={36 + i * 21.5} stroke={s.color} strokeWidth={1.3} />
          <circle cx={722.3} cy={36 + i * 21.5} r={2.5} fill="#fff" stroke={s.color} strokeWidth={1} />
          <Txt x={735} y={36 + i * 21.5 + 5} size={13.5}>{s.name}</Txt>
        </g>
      ))}
    </g>
  );
}

function CorrPanel({ vals, left, right, showYTitle }: any) {
  const x = d3.scaleLinear().domain([0, 50]).range([left, right]);
  const y = d3.scaleLinear().domain([0.2, 1]).range([480, 326.7]);
  const line = d3
    .line<number>()
    .x((_, i) => x(i + 1))
    .y((v) => y(v));
  return (
    <g>
      <path d={line(vals) || ""} fill="none" stroke={BLUE} strokeWidth={1.1} />
      {vals.map((v: number, i: number) => (
        <circle key={i} cx={x(i + 1)} cy={y(v)} r={2.4} fill="#fff" stroke={BLUE} strokeWidth={1} />
      ))}
      <LeftAxis scale={y} ticks={deYTicks} x={left} top={y(1)} bottom={y(0.2)} />
      <BottomAxis scale={x} ticks={deXTicks} y={480} left={left} right={right} labelY={506} />
      <Txt x={(left + right) / 2} y={525} size={16} anchor="middle">
        Number of library elements (<tspan fontFamily={SERIF} fontStyle="italic">l</tspan>)
      </Txt>
      {showYTitle && (
        <Txt x={25} y={399} size={19.5} anchor="middle" rot={-90}>Corr. coeff.</Txt>
      )}
    </g>
  );
}

export default function App() {
  return (
    <svg width={877} height={533} style={{ position: "absolute", left: 0, top: 0, background: "#fff" }}>
      <rect x={0} y={0} width={877} height={533} fill="#fff" />
      <PanelA />
      <PanelB />
      <PanelC />
      <CorrPanel vals={corrD} left={70} right={421} showYTitle />
      <CorrPanel vals={corrE} left={507.7} right={857.7} showYTitle={false} />
      <Txt x={13} y={24} size={21} weight="bold" sx={1.1}>a</Txt>
      <Txt x={325} y={23.5} size={21} weight="bold" sx={1.1}>b</Txt>
      <Txt x={621.5} y={23.5} size={21} weight="bold" sx={1.1}>c</Txt>
      <Txt x={13} y={328} size={21} weight="bold" sx={1.1}>d</Txt>
      <Txt x={461} y={328} size={21} weight="bold" sx={1.1}>e</Txt>
    </svg>
  );
}
